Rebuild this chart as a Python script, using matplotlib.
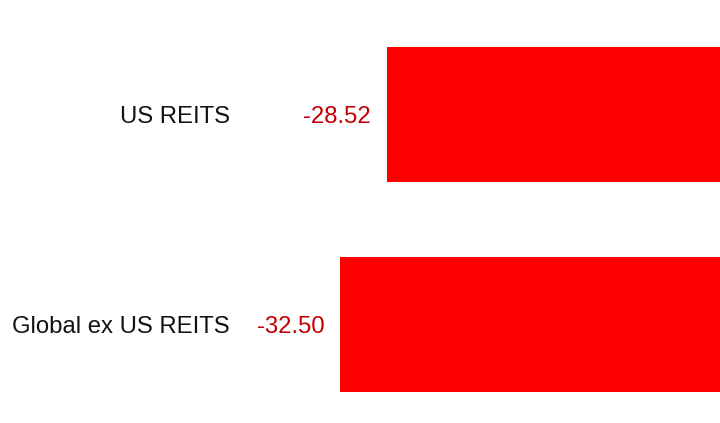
import matplotlib
matplotlib.use("Agg")
import matplotlib.pyplot as plt

# REIT returns (%)
categories = ["Global ex US REITS", "US REITS"]
values = [-32.50, -28.52]

plt.rcParams['font.family'] = ['Liberation Sans', 'DejaVu Sans']

fig = plt.figure(figsize=(7.2, 4.23), dpi=100)
ax = fig.add_axes([0, 0, 1, 1])

pos = list(range(len(categories)))
ax.barh(pos, values, height=0.643, color='#ff0000', edgecolor='none')

ax.set_xlim(-61.62, 0)
ax.set_ylim(-0.469, -0.469 + 423 / 210)

for p, cat, v in zip(pos, categories, values):
    ax.annotate(cat, xy=(0.3194, p), xycoords=ax.get_yaxis_transform(),
                xytext=(0, -2), textcoords='offset pixels',
                ha='right', va='center', fontsize=17.2, color='#111111')
    ax.annotate(f"{v:.2f}", xy=(v, p), xytext=(-16, -2), textcoords='offset pixels',
                ha='right', va='center', fontsize=17.2, color='#c00000')

ax.axis('off')
fig.savefig("out.png", dpi=100)
